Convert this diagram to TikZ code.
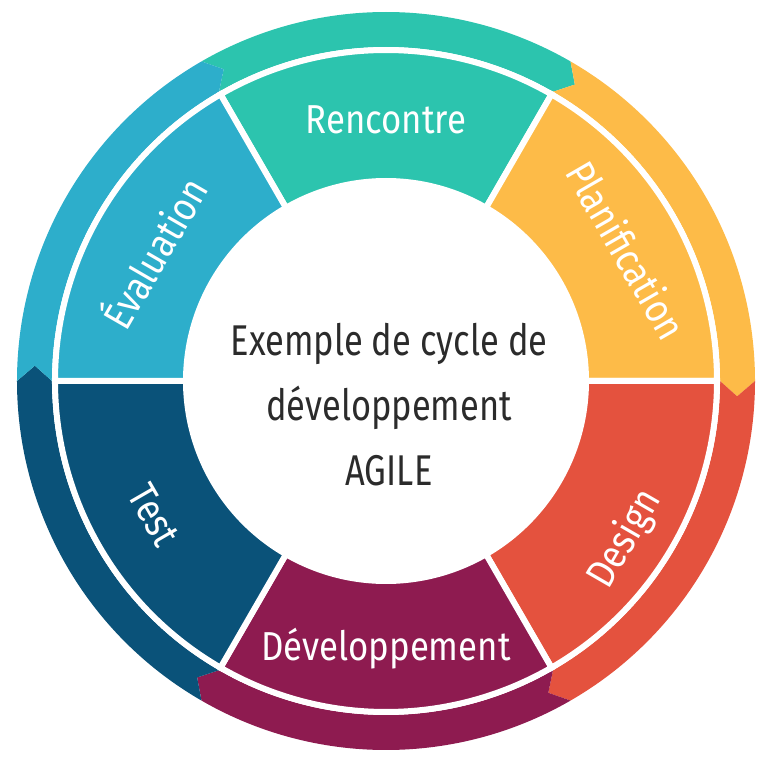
\documentclass[tikz,border=0pt]{standalone}
\usepackage{fontspec}
\setmainfont{Fira Sans}[FakeStretch=0.86]
\newfontfamily\centrefont{Fira Sans}[FakeStretch=0.8]
\usepackage{tikz}

\definecolor{rencontreC}{HTML}{2CC4AE}
\definecolor{planifC}{HTML}{FDBB48}
\definecolor{designC}{HTML}{E4523E}
\definecolor{devC}{HTML}{8E1B50}
\definecolor{testC}{HTML}{0A5279}
\definecolor{evalC}{HTML}{2DAECB}
\definecolor{texteC}{HTML}{2B2B2B}

\begin{document}
\begin{tikzpicture}[
    seg/.style={draw=white, line width=0.12cm},
    lbl/.style={text=white, font=\fontsize{23}{28}\selectfont}
  ]
        \useasboundingbox (-7.72,-7.54) rectangle (7.44,7.62);

        %Outer ring arrows
        \fill [rencontreC] (120:7.38) arc[start angle=120, end angle=60, radius=7.38] -- (57.5:7.03) -- (60:6.68) arc[start angle=60, end angle=120, radius=6.68] -- (117.5:7.03) -- cycle;
        \fill [planifC] (60:7.38) arc[start angle=60, end angle=0, radius=7.38] -- (-2.5:7.03) -- (0:6.68) arc[start angle=0, end angle=60, radius=6.68] -- (57.5:7.03) -- cycle;
        \fill [designC] (0:7.38) arc[start angle=0, end angle=-60, radius=7.38] -- (-62.5:7.03) -- (-60:6.68) arc[start angle=-60, end angle=0, radius=6.68] -- (-2.5:7.03) -- cycle;
        \fill [devC] (-60:7.38) arc[start angle=-60, end angle=-120, radius=7.38] -- (-122.5:7.03) -- (-120:6.68) arc[start angle=-120, end angle=-60, radius=6.68] -- (-62.5:7.03) -- cycle;
        \fill [testC] (-120:7.38) arc[start angle=-120, end angle=-180, radius=7.38] -- (-182.5:7.03) -- (-180:6.68) arc[start angle=-180, end angle=-120, radius=6.68] -- (-122.5:7.03) -- cycle;
        \fill [evalC] (180:7.38) arc[start angle=180, end angle=120, radius=7.38] -- (117.5:7.03) -- (120:6.68) arc[start angle=120, end angle=180, radius=6.68] -- (177.5:7.03) -- cycle;

        %Phases
        \filldraw [seg, fill=rencontreC] (120:4) -- (120:6.62) arc[start angle=120, end angle=60, radius=6.62] -- (60:4) arc[start angle=60, end angle=120, radius=4] -- cycle;
        \filldraw [seg, fill=planifC] (60:4) -- (60:6.62) arc[start angle=60, end angle=0, radius=6.62] -- (0:4) arc[start angle=0, end angle=60, radius=4] -- cycle;
        \filldraw [seg, fill=designC] (0:4) -- (0:6.62) arc[start angle=0, end angle=-60, radius=6.62] -- (-60:4) arc[start angle=-60, end angle=0, radius=4] -- cycle;
        \filldraw [seg, fill=devC] (-60:4) -- (-60:6.62) arc[start angle=-60, end angle=-120, radius=6.62] -- (-120:4) arc[start angle=-120, end angle=-60, radius=4] -- cycle;
        \filldraw [seg, fill=testC] (-120:4) -- (-120:6.62) arc[start angle=-120, end angle=-180, radius=6.62] -- (-180:4) arc[start angle=-180, end angle=-120, radius=4] -- cycle;
        \filldraw [seg, fill=evalC] (180:4) -- (180:6.62) arc[start angle=180, end angle=120, radius=6.62] -- (120:4) arc[start angle=120, end angle=180, radius=4] -- cycle;

        %Labels
        \node [lbl] (rencontre) at (90:5.22) {Rencontre};
        \node [lbl, rotate=-60] (planif) at (28.5:5.48) {Planification};
        \node [lbl, rotate=60] (design) at (-33.5:5.74) {Design};
        \node [lbl] (dev) at (-90:5.36) {Développement};
        \node [lbl, rotate=-60] (test) at (-150:5.36) {Test};
        \node [lbl, rotate=60] (eval) at (151:5.34) {Évaluation};

        %Centre
        \node [text=texteC, align=center, font=\centrefont\fontsize{24.5}{37}\selectfont] (centre) at (0.06,-0.48) {Exemple de cycle de\\développement\\AGILE};

\end{tikzpicture}
\end{document}
